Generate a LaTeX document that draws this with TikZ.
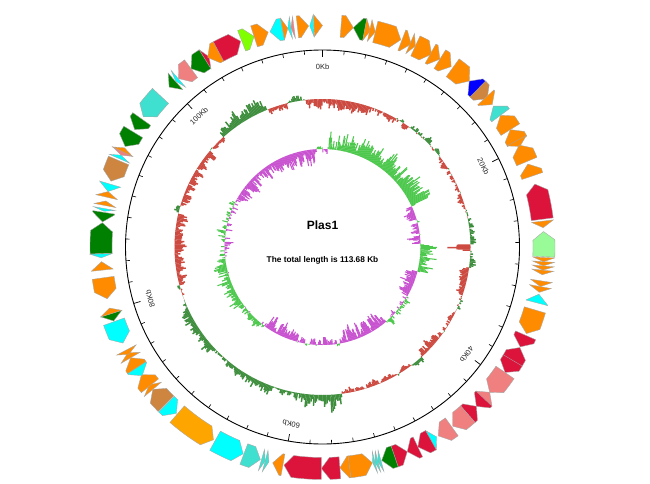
\documentclass[tikz,border=0pt]{standalone}
\usepackage{fontspec}
\setmainfont{Liberation Sans}
\definecolor{dorange}{HTML}{FF8C00}
\definecolor{lorange}{HTML}{FFA500}
\definecolor{dgreen}{HTML}{008000}
\definecolor{crim}{HTML}{DC143C}
\definecolor{salm}{HTML}{F08080}
\definecolor{cyn}{HTML}{00FFFF}
\definecolor{turq}{HTML}{40E0D0}
\definecolor{blu}{HTML}{0000FF}
\definecolor{peru}{HTML}{CD853F}
\definecolor{lawn}{HTML}{7FFF00}
\definecolor{pgreen}{HTML}{98FB98}
\definecolor{gcred}{HTML}{CC4A40}
\definecolor{gcgreen}{HTML}{3E8E3E}
\definecolor{skgreen}{HTML}{4CC84C}
\definecolor{skmag}{HTML}{C852D0}
\newcommand\mygene[4]{%
 \pgfmathsetmacro\ga{90-#1}\pgfmathsetmacro\gz{90-#2}%
 \ifnum#3=1
   \pgfmathsetmacro\gb{90-max(#1,#2-2.2)}%
   \filldraw[genestyle,fill=#4] (\ga:232.5pt) arc[start angle=\ga,end angle=\gb,radius=232.5pt] -- (\gz:221.5pt) -- (\gb:210.5pt) arc[start angle=\gb,end angle=\ga,radius=210.5pt] -- cycle;
 \else
   \pgfmathsetmacro\gb{90-min(#2,#1+2.2)}%
   \filldraw[genestyle,fill=#4] (\gb:232.5pt) arc[start angle=\gb,end angle=\gz,radius=232.5pt] -- (\gz:210.5pt) arc[start angle=\gz,end angle=\gb,radius=210.5pt] -- (\ga:221.5pt) -- cycle;
 \fi}
\tikzset{
 genestyle/.style={draw=gray!70,line width=0.35pt,line join=miter},
 gcpos/.style={draw=gcgreen,line width=1.45pt},
 gcneg/.style={draw=gcred,line width=1.45pt},
 skpos/.style={draw=skgreen,line width=1.05pt},
 skneg/.style={draw=skmag,line width=1.05pt},
 ticklab/.style={font=\fontsize{7.5}{8}\selectfont,text=black!85,inner sep=0.5pt},
}
\begin{document}
\begin{tikzpicture}[x=1pt,y=1pt]
\useasboundingbox (0,0) rectangle (650,483);
\fill[white] (0,0) rectangle (650,483);
\begin{scope}[shift={(322.5,236)}]
% GC content ring
\pgfmathsetseed{11}
\gdef\prev{0}
\foreach \a/\b/\m/\sp in {0/5/-8/4,5/20/-6/5,20/35/-2/4,35/50/2/4,50/65/-1.5/4,65/75/-2/3,75/89/3/4,89/91/-16/6,91/98/3/3,98/108/-6/4,108/118/1/3,118/128/-1.5/3,128/137/-6/4,137/142/3/3,142/172/-2.5/3,172/190/8/5,190/200/3/3,200/215/6/4,215/225/3/3,225/245/6/4,245/255/1/3,255/283/-6/5,283/286/3/2,286/310/-5/5,310/318/-2/3,318/338/8/5,338/346/-4/3,346/352/4/3,352/360/-7/4}{
 \pgfmathsetmacro\aa{\a+0.5}\pgfmathsetmacro\bb{\b-0.5}
 \foreach \t in {\a,\aa,...,\bb}{
  \pgfmathsetmacro\v{0.45*\prev+0.55*(\m*(0.3+1.4*rnd)+1.4*\sp*(2*rnd-1))}
  \xdef\prev{\v}
  \pgfmathsetmacro\ang{90-\t-0.25}
  \pgfmathsetmacro\rr{148+\v}
  \ifdim\v pt>0pt \draw[gcpos] (\ang:148pt) -- (\ang:\rr pt);
  \else \draw[gcneg] (\ang:148pt) -- (\ang:\rr pt); \fi
 }}
% GC skew ring
\gdef\prev{0}
\foreach \a/\b/\m/\sp in {0/3/-2/3,3/25/10/8,25/35/8/6,35/65/12/8,65/88/-8/6,88/104/9/7,104/120/-8/6,120/140/1/6,140/168/-9/7,168/195/-2/5,195/215/-8/6,215/232/2/5,232/262/6/7,262/300/0/8,300/330/-7/6,330/355/-9/7,355/360/1/3}{
 \pgfmathsetmacro\aa{\a+0.5}\pgfmathsetmacro\bb{\b-0.5}
 \foreach \t in {\a,\aa,...,\bb}{
  \pgfmathsetmacro\v{0.45*\prev+0.55*(\m*(0.3+1.4*rnd)+1.4*\sp*(2*rnd-1))}
  \xdef\prev{\v}
  \pgfmathsetmacro\ang{90-\t-0.25}
  \pgfmathsetmacro\rr{98+\v}
  \ifdim\v pt>0pt \draw[skpos] (\ang:98pt) -- (\ang:\rr pt);
  \else \draw[skneg] (\ang:98pt) -- (\ang:\rr pt); \fi
 }}
% scale
\draw[line width=0.9pt] (0,0) circle[radius=197pt];
\foreach \k in {0,...,56}{
 \pgfmathsetmacro\ang{90-\k*6.33357}
 \pgfmathtruncatemacro\md{mod(\k,10)}
 \ifnum\md=0 \draw[line width=0.7pt] (\ang:197pt) -- (\ang:190pt);
 \else \draw[line width=0.6pt] (\ang:197pt) -- (\ang:193pt); \fi
}
\foreach \k/\lab in {0/0Kb,1/20Kb,2/40Kb,3/60Kb,4/80Kb,5/100Kb}{
 \pgfmathsetmacro\th{\k*63.3357}
 \node[ticklab,rotate=-\th] (lab\k) at ({90-\th}:180pt) {\lab};
}
% genes
\foreach \s/\e/\d/\gcol in {
4.8/8/1/dorange, 8/11/0/dgreen, 11/12.5/1/dorange, 12.3/13.8/1/dorange, 13.8/20.7/1/dorange,
21/23.6/1/dorange, 23.3/24.8/1/dorange, 24.8/29.5/1/dorange, 29.2/32/1/dorange, 32/35.5/1/dorange,
36/41.5/1/dorange, 41.5/45/0/blu, 44.5/48/1/peru, 47.5/50/1/dorange, 50.5/53.5/0/turq,
53.5/58/0/dorange, 58/61.5/0/dorange, 61.3/63/1/dorange, 62.6/67.3/0/dorange, 68/71.3/0/dorange,
73.5/82.8/0/crim, 83.3/85/1/dorange, 86/92.5/0/pgreen,
92.7/93.8/1/dorange, 93.8/94.9/1/dorange, 94.9/96/1/dorange, 96/97.2/1/dorange,
98.8/100.3/1/dorange, 100.3/101.8/1/dorange, 102.3/104.6/0/cyn,
106.5/113/1/dorange, 113.5/116.8/1/crim, 117/121/0/crim, 120.8/124.5/1/crim,
124.5/131/1/salm, 131/133.5/0/salm, 133.2/136/1/crim, 136/139/0/crim,
139/144/1/salm, 144.3/148.5/1/salm, 149/150.7/0/cyn, 150.7/154.5/1/crim,
154.5/157.5/1/crim, 157.5/161/0/crim, 161/164.5/1/dgreen,
164.7/165.5/1/turq, 165.5/166.3/1/turq, 166.3/166.9/1/turq,
167/173/0/dorange, 173/175.5/1/dorange, 175.5/180.3/1/crim, 180.3/190/1/crim,
190.3/193/1/dorange, 194/195/0/turq, 195/196/0/turq, 196.3/200.8/0/turq,
201/209/0/cyn, 209.5/221/0/lorange, 221.3/224.8/0/cyn, 225/230/1/peru,
230/231.5/1/dorange, 231.2/234.8/1/dorange, 234.5/237/0/cyn, 237/240/1/dorange,
240/241.5/1/dorange, 241/242.3/0/dorange, 244.3/250.3/0/cyn, 250.5/252.5/0/dgreen,
252.5/254/1/dorange, 256.5/262/0/dorange, 264/266.2/1/dorange, 267.2/268.2/0/cyn,
268.3/276.3/1/dgreen, 276.5/279/0/dgreen, 279.3/280/0/cyn, 280.8/282/1/dorange,
283/284.5/1/dorange, 284.5/286.5/0/cyn, 287.3/293/0/peru,
293.5/294.5/1/cyn, 294.5/295.5/0/salm, 295.5/296.6/1/dorange,
297/301.3/0/dgreen, 302/305.3/0/dgreen, 306/313/0/turq,
316.2/318.4/0/dgreen, 318.5/319.4/0/cyn, 319.5/323.6/0/salm, 323.6/328/0/dgreen,
328/329.2/1/crim, 328.8/332/0/dorange, 332/338.3/1/crim, 338.6/342/1/lawn,
342/345.8/1/dorange, 346.3/349.6/0/cyn, 349.6/351/1/dorange, 351/351.8/0/cyn,
351.8/352.6/0/salm, 353.5/356.4/1/dorange, 356.7/357.7/0/cyn, 357.8/360/1/dorange}{
 \mygene{\s}{\e}{\d}{\gcol}
}
% centre texts
\node[font=\bfseries\fontsize{12}{14}\selectfont] (title) at (0,22) {Plas1};
\node[font=\bfseries\fontsize{8.3}{10}\selectfont] (len) at (0,-13.7) {The total length is 113.68 Kb};
\end{scope}
\end{tikzpicture}
\end{document}
